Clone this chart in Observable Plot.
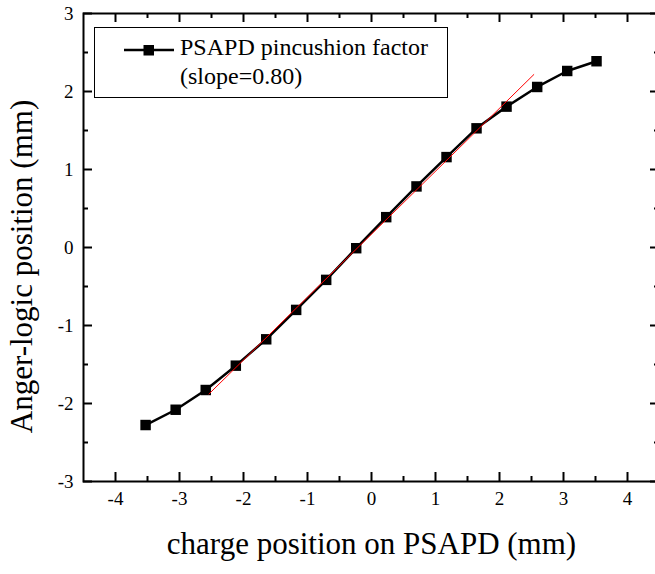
<!DOCTYPE html>
<html><head><meta charset="utf-8">
<script src="https://cdn.jsdelivr.net/npm/d3@7"></script>
<script src="https://cdn.jsdelivr.net/npm/@observablehq/plot@0.6"></script>
<style>body{margin:0;background:#fff;overflow:hidden}</style>
</head><body><div id="chart"></div>
<script>
// Data
const xPos = [-3.53, -3.06, -2.59, -2.12, -1.645, -1.177, -0.708, -0.239, 0.23, 0.703, 1.172, 1.641, 2.11, 2.589, 3.058, 3.516];
const yPos = [-2.276, -2.08, -1.827, -1.515, -1.177, -0.80, -0.415, -0.009, 0.389, 0.783, 1.159, 1.528, 1.806, 2.058, 2.263, 2.388];
const fitX = [-2.54, 2.536];
const fitY = [-1.878, 2.217];
const xMajor = [-4, -3, -2, -1, 0, 1, 2, 3, 4];
const xMinor = [-3.5, -2.5, -1.5, -0.5, 0.5, 1.5, 2.5, 3.5];
const yMajor = [-3, -2, -1, 0, 1, 2, 3];
const yMinor = [-2.5, -1.5, -0.5, 0.5, 1.5, 2.5];
const xTitle = "charge position on PSAPD (mm)";
const yTitle = "Anger-logic position (mm)";
const legendLabel = ["PSAPD pincushion factor", "(slope=0.80)"];

const points = xPos.map((x, i) => ({x, y: yPos[i]}));
const fit = fitX.map((x, i) => ({x, y: fitY[i]}));

const W = 655, H = 574;
const mL = 83, mR = -4, mT = 13, mB = 93;
const fw = W - mL - mR, fh = H - mT - mB;
const font = "Liberation Serif, DejaVu Serif, serif";

const chart = Plot.plot({
  width: W, height: H,
  marginLeft: mL, marginRight: mR, marginTop: mT, marginBottom: mB,
  style: {fontFamily: font, fontSize: "19px", color: "black", background: "white"},
  x: {domain: [-4.5, 4.5], axis: null},
  y: {domain: [-3, 3], axis: null},
  marks: [
    // ticks (inward)
    Plot.ruleX(xMajor, {x: d => d, insetTop: fh - 9, strokeWidth: 2}),
    Plot.ruleX(xMinor, {x: d => d, insetTop: fh - 5, strokeWidth: 2}),
    Plot.ruleX(xMajor, {x: d => d, insetBottom: fh - 9, strokeWidth: 2}),
    Plot.ruleX(xMinor, {x: d => d, insetBottom: fh - 5, strokeWidth: 2}),
    Plot.ruleY(yMajor, {y: d => d, insetRight: fw - 9, strokeWidth: 2}),
    Plot.ruleY(yMinor, {y: d => d, insetRight: fw - 5, strokeWidth: 2}),
    Plot.ruleY(yMajor, {y: d => d, insetLeft: fw - 9, strokeWidth: 2}),
    Plot.ruleY(yMinor, {y: d => d, insetLeft: fw - 5, strokeWidth: 2}),
    Plot.frame({stroke: "black", strokeWidth: 2}),
    // tick labels
    Plot.text(xMajor, {x: d => d, text: d => String(d), frameAnchor: "bottom", textAnchor: "middle", dy: 23, fontSize: 19, fontFamily: font}),
    Plot.text(yMajor, {y: d => d, text: d => String(d), frameAnchor: "left", textAnchor: "end", dx: -10, fontSize: 19, fontFamily: font}),
    // axis titles
    Plot.text([xTitle], {frameAnchor: "bottom", textAnchor: "middle", dy: 72, fontSize: 31, fontFamily: font}),
    Plot.text([yTitle], {frameAnchor: "left", textAnchor: "middle", rotate: -90, dx: -61, dy: 19, fontSize: 31, fontFamily: font}),
    // data
    Plot.line(points, {x: "x", y: "y", stroke: "black", strokeWidth: 2.5}),
    Plot.dot(points, {x: "x", y: "y", symbol: "square", r: 5.9, fill: "black", stroke: "none"}),
    Plot.line(fit, {x: "x", y: "y", stroke: "#ff0000", strokeWidth: 1})
  ]
});

// Legend
const svg = d3.select(chart);
const lg = svg.append("g").style("font-family", font).attr("fill", "black").attr("text-anchor", "start");
lg.append("rect").attr("x", 94.5).attr("y", 27.5).attr("width", 353).attr("height", 70)
  .attr("fill", "white").attr("stroke", "black").attr("stroke-width", 1);
lg.append("line").attr("x1", 124).attr("x2", 174).attr("y1", 50).attr("y2", 50)
  .attr("stroke", "black").attr("stroke-width", 2.5);
lg.append("rect").attr("x", 143.5).attr("y", 45).attr("width", 10.5).attr("height", 10.5).attr("fill", "black");
lg.append("text").attr("x", 180).attr("y", 55).style("font-size", "24px").style("font-family", font).attr("text-anchor", "start").text(legendLabel[0]);
lg.append("text").attr("x", 180).attr("y", 84).style("font-size", "24px").style("font-family", font).attr("text-anchor", "start").text(legendLabel[1]);

document.getElementById("chart").appendChild(chart);
</script>
</body></html>
